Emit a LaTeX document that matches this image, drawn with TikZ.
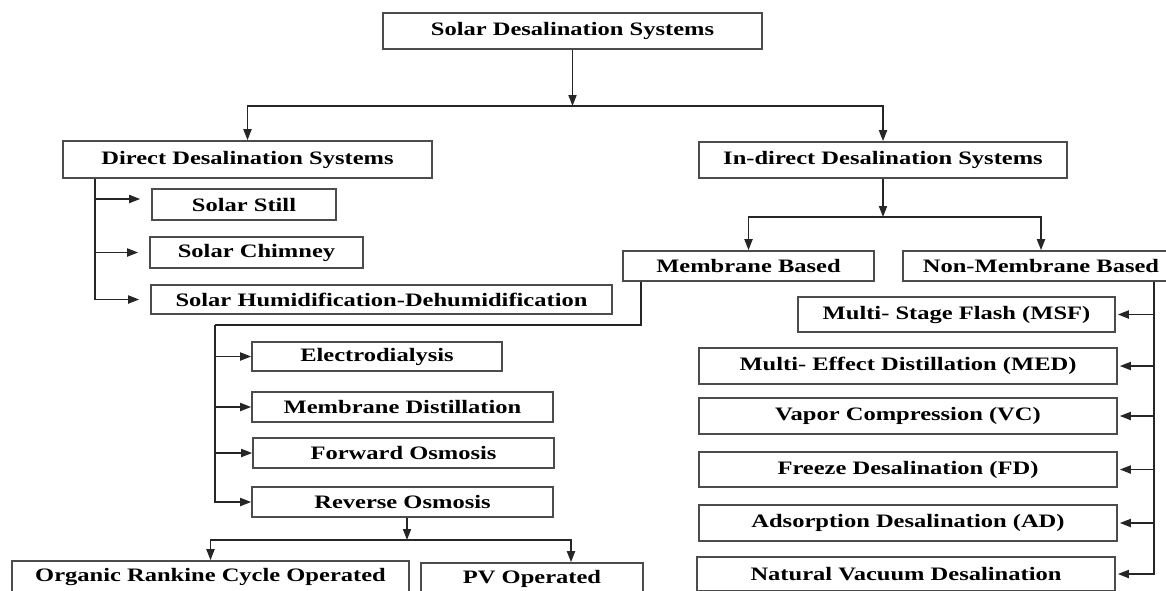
\documentclass[tikz,border=0pt]{standalone}
\usepackage{fontspec}
\setmainfont{Liberation Serif}[FakeStretch=1.29]
\usetikzlibrary{arrows.meta}

\begin{document}
\begin{tikzpicture}[x=1pt, y=-1pt,
   box/.style={draw=black!70, line width=1.6pt, inner sep=0pt,
      font=\fontsize{19}{22}\selectfont\bfseries},
   link/.style={draw=black!85, line width=1.8pt},
   arr/.style={link, -{Triangle[length=11pt, width=8pt]}}]
   \useasboundingbox (0,0) rectangle (1166,590);
   % first levels
   \node[box, minimum width=379pt, minimum height=36pt] (sds) at (572.5,31) {Solar Desalination Systems};
   \node[box, minimum width=369pt, minimum height=37pt] (dds) at (247.5,159.5) {Direct Desalination Systems};
   \node[box, minimum width=368pt, minimum height=36pt] (ids) at (883,160) {In-direct Desalination Systems};
   \node[box, minimum width=251pt, minimum height=30pt] (mbase) at (748.5,266) {Membrane Based};
   \node[box, minimum width=276pt, minimum height=30pt] (nmb) at (1041,266) {Non-Membrane Based};
   % direct
   \node[box, minimum width=184pt, minimum height=31pt] (still) at (244,204.5) {Solar Still};
   \node[box, minimum width=213pt, minimum height=31pt] (chim) at (256.5,252.5) {Solar Chimney};
   \node[box, minimum width=461pt, minimum height=29pt] (hd) at (381.5,299.5) {Solar Humidification-Dehumidification};
   % membrane
   \node[box, minimum width=250pt, minimum height=29pt] (ed) at (377,356.5) {Electrodialysis};
   \node[box, minimum width=301pt, minimum height=30pt] (md) at (402.5,407) {Membrane Distillation};
   \node[box, minimum width=301pt, minimum height=30pt] (fo) at (403.5,453) {Forward Osmosis};
   \node[box, minimum width=301pt, minimum height=30pt] (ro) at (402.5,502) {Reverse Osmosis};
   \node[box, minimum width=397pt, minimum height=32pt] (orc) at (210.5,577) {Organic Rankine Cycle Operated};
   \node[box, minimum width=222pt, minimum height=32pt] (pv) at (532,579) {PV Operated};
   % non-membrane
   \node[box, minimum width=317pt, minimum height=35pt] (msf) at (956.5,314.5) {Multi- Stage Flash (MSF)};
   \node[box, minimum width=418pt, minimum height=36pt] (med) at (908,366) {Multi- Effect Distillation (MED)};
   \node[box, minimum width=418pt, minimum height=36pt] (vc) at (908,416) {Vapor Compression (VC)};
   \node[box, minimum width=418pt, minimum height=35pt] (fd) at (908,469.5) {Freeze Desalination (FD)};
   \node[box, minimum width=418pt, minimum height=36pt] (ad) at (908,523) {Adsorption Desalination (AD)};
   \node[box, minimum width=418pt, minimum height=34pt] (nvd) at (906,574) {Natural Vacuum Desalination};

   \coordinate (j1) at (572.5,106);
   \coordinate (j2) at (883,217);
   \coordinate (j3) at (407,540);
   \coordinate (mbend) at (215,325);

   \draw[arr] (sds) -- (j1);
   \draw[arr] (j1) -| (dds);
   \draw[arr] (j1) -| (ids);
   \draw[arr] (ids) -- (j2);
   \draw[arr] (j2) -| (mbase);
   \draw[arr] (j2) -| (nmb);

   \draw[arr, shorten >=11pt] ([xshift=33pt]dds.south west) |- ([yshift=5.5pt]still.west);
   \foreach \n in {chim,hd}
      \draw[arr, shorten >=11pt] ([xshift=33pt]dds.south west) |- (\n);

   \draw[link] ([xshift=19pt]mbase.south west) |- (mbend);
   \foreach \n in {ed,md,fo,ro}
      \draw[arr] (mbend) |- (\n);

   \draw[arr] (ro.south -| j3) -- (j3);
   \draw[arr] (j3) -| (orc);
   \draw[arr] (j3) -| ([xshift=39pt]pv.north);

   \foreach \n in {msf,med,vc,fd,ad,nvd}
      \draw[arr, shorten >=2pt] ([xshift=252pt]nmb.south west) |- (\n);
\end{tikzpicture}
\end{document}
